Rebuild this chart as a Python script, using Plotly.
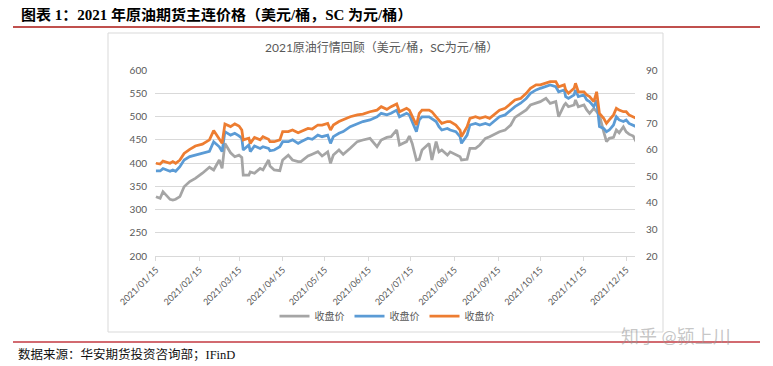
import plotly.graph_objects as go

# ---------------- data ----------------
dates = [
    "2021-01-15", "2021-01-18", "2021-01-20", "2021-01-25", "2021-01-27", "2021-01-29",
    "2021-02-01", "2021-02-04", "2021-02-08", "2021-02-12", "2021-02-17", "2021-02-22",
    "2021-02-25", "2021-03-01", "2021-03-03", "2021-03-05", "2021-03-09", "2021-03-12",
    "2021-03-15", "2021-03-17", "2021-03-18", "2021-03-22", "2021-03-23", "2021-03-26",
    "2021-03-30", "2021-04-01", "2021-04-05", "2021-04-06", "2021-04-09", "2021-04-13",
    "2021-04-15", "2021-04-19", "2021-04-22", "2021-04-26", "2021-04-28", "2021-05-03",
    "2021-05-06", "2021-05-10", "2021-05-13", "2021-05-17", "2021-05-19", "2021-05-21",
    "2021-05-25", "2021-05-28", "2021-06-02", "2021-06-07", "2021-06-11", "2021-06-16",
    "2021-06-21", "2021-06-24", "2021-06-28",
    "2021-07-01", "2021-07-05", "2021-07-07", "2021-07-12", "2021-07-14", "2021-07-16",
    "2021-07-19", "2021-07-21", "2021-07-23", "2021-07-28", "2021-07-30", "2021-08-02",
    "2021-08-04", "2021-08-06", "2021-08-10", "2021-08-12", "2021-08-16", "2021-08-19",
    "2021-08-20", "2021-08-24", "2021-08-26", "2021-08-30", "2021-09-02", "2021-09-06",
    "2021-09-09", "2021-09-13", "2021-09-16", "2021-09-20", "2021-09-24", "2021-09-27",
    "2021-10-01", "2021-10-05", "2021-10-08", "2021-10-12", "2021-10-15", "2021-10-19",
    "2021-10-22", "2021-10-26", "2021-10-28", "2021-11-01", "2021-11-02", "2021-11-04",
    "2021-11-08", "2021-11-09", "2021-11-11", "2021-11-15", "2021-11-17", "2021-11-19",
    "2021-11-22", "2021-11-24", "2021-11-26", "2021-11-29", "2021-12-01", "2021-12-03",
    "2021-12-06", "2021-12-08", "2021-12-10", "2021-12-13", "2021-12-15", "2021-12-17",
    "2021-12-20", "2021-12-22",
]

# SC (yuan/bbl, left axis) - grey
sc_close = [
    327.6, 324, 338.4, 321.9, 320.5, 322, 327.6, 349, 360, 367,
    378, 390.7, 385, 406.5, 388.5, 442.3, 422, 413.6, 417, 412,
    374, 374, 381, 378, 388.5, 385, 406.5, 393.6, 385, 383.5,
    406.5, 417, 406.5, 403, 403, 415, 419, 424.4, 415, 424,
    399.3, 417, 428, 418.6, 431.5, 446, 449.5, 453, 435, 449.5,
    455,
    456.6, 471, 438.7, 446, 458, 442, 406.5, 408, 428, 442,
    406.5, 446, 424, 428, 417, 424, 417, 413.6, 406.5, 408,
    431.5, 431.5, 438.7, 453, 456.6, 462, 467.4, 471, 481.7, 498,
    506.8, 514, 524.7, 528.3, 532, 539, 528.3, 532, 499.6, 524.7,
    528.3, 521, 524.7, 535.5, 521, 524.7, 514, 506.8, 517.6, 510.4,
    503, 467.4, 446, 453, 455, 471, 465, 478, 467, 462,
    458, 446,
]

# WTI (USD/bbl, right axis) - blue
wti_close = [
    52.0, 52.0, 52.9, 51.9, 52.4, 51.9, 53.6, 56.1, 57.4, 58.0,
    58.6, 59.4, 63.0, 61.1, 59.3, 66.8, 65.5, 66.2, 65.2, 64.3,
    59.9, 61.8, 59.3, 61.4, 60.5, 61.1, 60.5, 59.6, 59.9, 61.1,
    63.0, 63.0, 63.7, 62.4, 63.0, 64.3, 63.9, 65.5, 64.9, 65.5,
    62.4, 64.9, 66.2, 66.8, 68.7, 69.9, 70.6, 71.2, 72.4, 73.7,
    73.1,
    73.7, 74.9, 72.4, 73.7, 73.1, 70.6, 66.8, 71.2, 72.4, 72.4,
    71.8, 70.6, 68.7, 67.4, 68.0, 67.4, 66.8, 64.9, 62.4, 65.5,
    69.3, 69.9, 69.3, 69.9, 69.3, 71.2, 72.4, 73.1, 74.9, 76.2,
    77.5, 79.3, 81.2, 82.5, 83.1, 83.7, 84.4, 83.7, 81.8, 82.5,
    80.0, 79.3, 80.6, 82.5, 80.0, 80.6, 78.7, 78.1, 76.2, 78.7,
    68.7, 68.0, 66.8, 67.4, 69.3, 72.4, 71.2, 70.6, 71.2, 69.9,
    69.3, 68.7,
]

# Brent (USD/bbl, right axis) - orange
brent_close = [
    54.9, 54.6, 55.7, 54.9, 55.5, 54.9, 56.1, 58.6, 60.1, 61.4,
    62.1, 63.7, 67.2, 64.3, 62.4, 69.7, 68.7, 69.7, 68.9, 67.4,
    63.7, 64.3, 62.4, 64.6, 63.7, 64.9, 63.9, 63.0, 63.0, 63.7,
    66.8, 66.8, 67.4, 66.4, 66.8, 68.0, 67.8, 69.3, 69.3, 69.9,
    67.4, 69.3, 70.6, 71.2, 72.4, 73.1, 73.4, 74.3, 74.9, 76.2,
    75.2,
    76.2, 77.2, 74.3, 75.6, 74.9, 72.4, 69.3, 73.7, 74.9, 74.9,
    74.3, 72.4, 71.2, 69.9, 70.6, 70.6, 69.3, 67.4, 64.9, 68.7,
    71.8, 72.4, 71.8, 72.4, 71.8, 73.7, 74.9, 75.6, 77.5, 78.7,
    79.3, 81.2, 83.1, 84.4, 84.4, 85.2, 85.6, 85.6, 83.7, 84.4,
    82.5, 81.2, 83.1, 85.0, 81.8, 81.8, 80.6, 80.0, 78.1, 81.8,
    73.7, 71.8, 69.9, 71.2, 73.1, 75.6, 74.9, 74.3, 74.3, 73.1,
    72.2, 71.8,
]

series_names = ["收盘价", "收盘价", "收盘价"]

tick_vals = ["2021-%02d-15" % m for m in range(1, 13)]
tick_text = ["2021/%02d/15" % m for m in range(1, 13)]
left_ticks = [200, 250, 300, 350, 400, 450, 500, 550, 600]
right_ticks = [20, 30, 40, 50, 60, 70, 80, 90]

main_title = "图表 1：2021 年原油期货主连价格（美元/桶，SC 为元/桶）"
chart_title = "2021原油行情回顾（美元/桶，SC为元/桶）"
source_text = "数据来源：华安期货投资咨询部；IFinD"
watermark = "知乎 @颍上川"

# ---------------- layout helpers ----------------
# The page body has an 8px margin, so the figure is placed at (8, 8).
OFF = 8
W, H = 773 - OFF, 366 - OFF
# plot area in page pixels
L_pg, R_pg, T_pg, B_pg = 155, 635, 70, 256
L, R, T, B = L_pg - OFF, R_pg - OFF, T_pg - OFF, B_pg - OFF


def px(x):  # page pixel -> paper x
    return (x - L_pg) / (R_pg - L_pg)


def py(y):  # page pixel -> paper y
    return (B_pg - y) / (B_pg - T_pg)


SANS = "Lato, 'Noto Sans CJK SC', sans-serif"
SERIF = "'Liberation Serif', 'Noto Sans CJK SC', serif"
TXT = "#595959"
GRID = "#d9d9d9"

fig = go.Figure()
fig.add_trace(go.Scatter(x=dates, y=sc_close, name=series_names[0], mode="lines",
                         line=dict(color="#a5a5a5", width=2.75), yaxis="y"))
fig.add_trace(go.Scatter(x=dates, y=wti_close, name=series_names[1], mode="lines",
                         line=dict(color="#5b9bd5", width=2.75), yaxis="y2"))
fig.add_trace(go.Scatter(x=dates, y=brent_close, name=series_names[2], mode="lines",
                         line=dict(color="#ed7d31", width=2.75), yaxis="y2"))

shapes = [
    dict(type="line", xref="paper", yref="paper", x0=px(13), x1=px(760), y0=py(27), y1=py(27),
         line=dict(color="#c0504d", width=2)),
    dict(type="rect", xref="paper", yref="paper", x0=px(108), x1=px(663), y0=py(33), y1=py(332),
         line=dict(color=GRID, width=1), layer="below"),
    dict(type="line", xref="paper", yref="paper", x0=px(13), x1=px(760), y0=py(342), y1=py(342),
         line=dict(color="#d26a70", width=2)),
]

annotations = [
    dict(text="<b>" + main_title + "</b>", x=px(19), y=py(14), xref="paper", yref="paper",
         xanchor="left", yanchor="middle", showarrow=False,
         font=dict(family=SERIF, size=15, color="#000000")),
    dict(text=chart_title, x=px(381), y=py(47), xref="paper", yref="paper",
         xanchor="center", yanchor="middle", showarrow=False,
         font=dict(family=SANS, size=12, color=TXT)),
    dict(text=source_text, x=px(16), y=py(354), xref="paper", yref="paper",
         xanchor="left", yanchor="middle", showarrow=False,
         font=dict(family=SERIF, size=12.5, color="#111111")),
    dict(text=watermark, x=px(676), y=py(336), xref="paper", yref="paper",
         xanchor="center", yanchor="middle", showarrow=False,
         font=dict(family=SANS, size=18, color="rgba(150,150,150,0.55)")),
]

fig.update_layout(
    width=W, height=H,
    margin=dict(l=L, r=W - R, t=T, b=H - B, pad=0),
    paper_bgcolor="white", plot_bgcolor="white",
    font=dict(family=SANS, size=10, color=TXT),
    showlegend=True,
    legend=dict(orientation="h", x=px(387), y=py(316), xanchor="center", yanchor="middle",
                font=dict(family=SANS, size=10, color=TXT), itemwidth=30,
                bgcolor="rgba(0,0,0,0)", traceorder="normal"),
    hovermode=False,
    shapes=shapes,
    annotations=annotations,
    xaxis=dict(
        type="date",
        range=["2021-01-14 08:00", "2021-12-21 06:00"],
        tickmode="array", tickvals=tick_vals, ticktext=tick_text,
        tickangle=-45, tickfont=dict(family=SANS, size=9, color=TXT),
        showgrid=False, zeroline=False,
        showline=True, linecolor=GRID, linewidth=1,
        ticks="outside", ticklen=4, tickcolor=GRID,
    ),
    yaxis=dict(
        range=[200, 600], tickmode="array", tickvals=left_ticks,
        tickfont=dict(family=SANS, size=10, color=TXT),
        showgrid=True, gridcolor=GRID, gridwidth=1, zeroline=False,
        showline=False, ticklabelstandoff=7,
    ),
    yaxis2=dict(
        range=[20, 90], tickmode="array", tickvals=right_ticks,
        overlaying="y", side="right",
        tickfont=dict(family=SANS, size=10, color=TXT),
        showgrid=False, zeroline=False, showline=False, ticklabelstandoff=10,
    ),
)

fig.write_html("out.html")
